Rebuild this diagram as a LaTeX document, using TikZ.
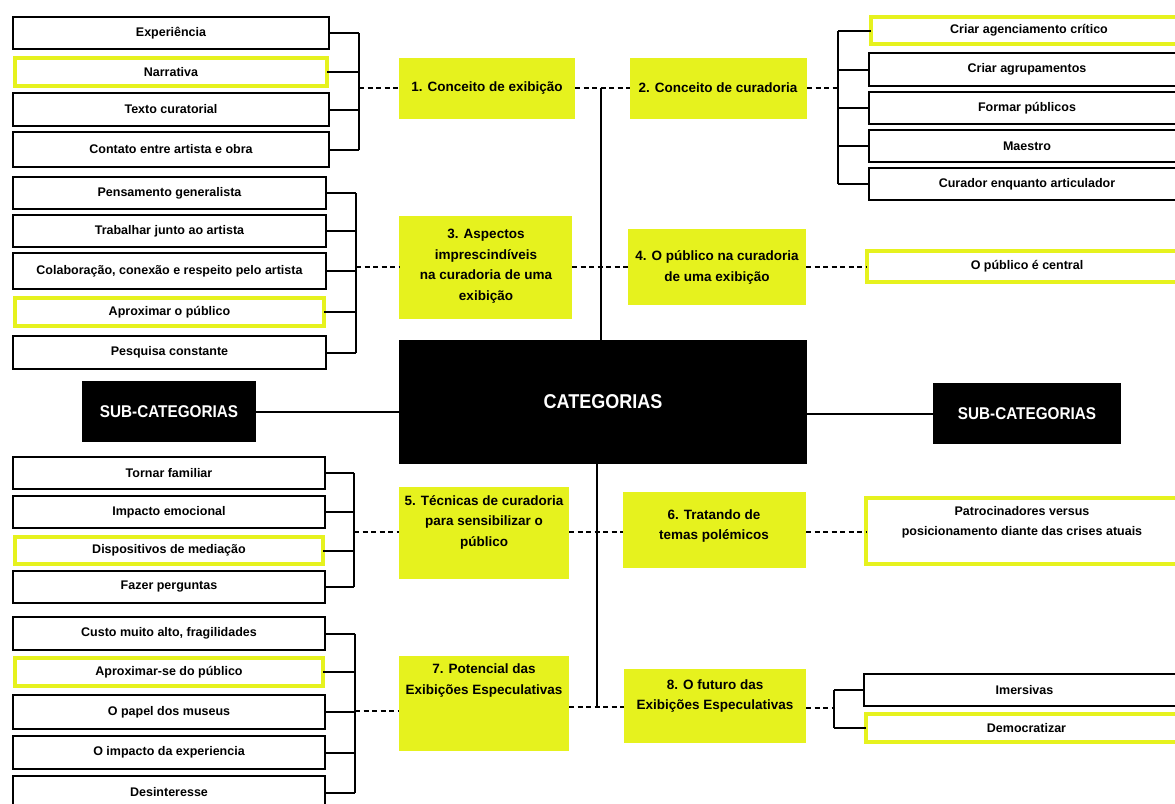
\documentclass[tikz,border=0pt]{standalone}
\usepackage{fontspec}
\setmainfont{Liberation Sans}
\newfontfamily\condf[FakeStretch=0.9]{Liberation Sans}
\definecolor{yl}{HTML}{E6F21E}
\newcommand\bx[6]{\node[#1, minimum width={#5-#3}, minimum height={#6-#4}] (#2) at ({(#3+#5)/2},{(#4+#6)/2})}
\begin{document}
\begin{tikzpicture}[x=1pt,y=-1pt,
 item/.style={draw=black, line width=2pt, fill=white, inner sep=0pt, outer sep=0pt, font=\fontsize{12.5}{14}\selectfont\bfseries, align=center},
 hitem/.style={item, draw=yl, line width=4.5pt},
 catbox/.style={fill=yl, inner sep=0pt, outer sep=0pt},
 cattext/.style={font=\fontsize{13.5}{20.5}\selectfont\bfseries, align=center, inner sep=0pt},
 itext/.style={font=\fontsize{12.5}{20}\selectfont\bfseries, align=center, inner sep=0pt},
 darkbox/.style={fill=black, text=white, inner sep=0pt, outer sep=0pt, font=\condf\bfseries},
 conn/.style={line width=2pt, black},
 dconn/.style={conn, dash pattern=on 5pt off 3.5pt},
]
\useasboundingbox (0,0) rectangle (1175,803);
\fill[white] (0,0) rectangle (1175,803);

% ---------- top-left group
\bx{item}{a1}{13}{17}{329}{49}{Experiência};
\bx{hitem}{a2}{15}{58}{327}{86}{Narrativa};
\bx{item}{a3}{13}{93}{329}{126}{Texto curatorial};
\bx{item}{a4}{13}{132}{329}{167}{Contato entre artista e obra};
\coordinate (ba) at (359,88);

% category boxes 1,2
\bx{catbox}{c1}{399}{58}{575}{119}{};
\node[cattext] at (487,88) {1. Conceito de exibição};
\bx{catbox}{c2}{630}{58}{807}{119}{};
\node[cattext] at (718,88) {2. Conceito de curadoria};
\coordinate (bb) at (838,88);

% ---------- top-right group
\bx{hitem}{b1}{871}{17}{1187}{44}{Criar agenciamento crítico};
\bx{item}{b2}{869}{53}{1185}{86}{Criar agrupamentos};
\bx{item}{b3}{869}{92}{1185}{124}{Formar públicos};
\bx{item}{b4}{869}{130}{1185}{162}{Maestro};
\bx{item}{b5}{869}{168}{1185}{200}{Curador enquanto articulador};

% ---------- left group 2
\bx{item}{d1}{13}{177}{326}{209}{Pensamento generalista};
\bx{item}{d2}{13}{215}{326}{247}{Trabalhar junto ao artista};
\bx{item}{d3}{13}{253}{326}{289}{Colaboração, conexão e respeito pelo artista};
\bx{hitem}{d4}{15}{298}{324}{326}{Aproximar o público};
\bx{item}{d5}{13}{336}{326}{369}{Pesquisa constante};
\coordinate (bc) at (356,267);

\bx{catbox}{c3}{399}{216}{572}{319}{};
\node[cattext] at (486,266) {3. Aspectos\\imprescindíveis\\na curadoria de uma\\exibição};
\bx{catbox}{c4}{628}{229}{806}{305}{};
\node[cattext] at (717,267.5) {4. O público na curadoria\\de uma exibição};
\bx{hitem}{e1}{867}{251}{1187}{282}{O público é central};

% ---------- centre
\bx{darkbox}{cat}{399}{340}{807}{464}{\fontsize{20}{24}\selectfont CATEGORIAS};
\bx{darkbox}{subL}{82}{381}{256}{442}{\fontsize{17}{20}\selectfont SUB-CATEGORIAS};
\bx{darkbox}{subR}{933}{383}{1121}{444}{\fontsize{17}{20}\selectfont SUB-CATEGORIAS};
\coordinate (t1) at (601,88);
\coordinate (t2) at (597,707);

% ---------- left group 3
\bx{item}{f1}{13}{457}{325}{489}{Tornar familiar};
\bx{item}{f2}{13}{496}{325}{528}{Impacto emocional};
\bx{hitem}{f3}{15}{537}{323}{564}{Dispositivos de mediação};
\bx{item}{f4}{13}{571}{325}{603}{Fazer perguntas};
\coordinate (bf) at (354,532);

\bx{catbox}{c5}{399}{487}{569}{579}{};
\node[cattext] at (484,522) {5. Técnicas de curadoria\\para sensibilizar o\\público};
\bx{catbox}{c6}{623}{492}{806}{568}{};
\node[cattext] at (714,526) {6. Tratando de\\temas polémicos};
\bx{hitem}{g1}{866}{498}{1187}{564}{};
\node[itext] at (1022,522) {Patrocinadores versus\\posicionamento diante das crises atuais};

% ---------- left group 4
\bx{item}{h1}{13}{617}{325}{650}{Custo muito alto, fragilidades};
\bx{hitem}{h2}{15}{658}{323}{686}{Aproximar-se do público};
\bx{item}{h3}{13}{695}{325}{729}{O papel dos museus};
\bx{item}{h4}{13}{736}{325}{769}{O impacto da experiencia};
\bx{item}{h5}{13}{776}{325}{809}{Desinteresse};
\coordinate (bh) at (355,711);

\bx{catbox}{c7}{399}{656}{569}{751}{};
\node[cattext] at (484,680.5) {7. Potencial das\\Exibições Especulativas};
\bx{catbox}{c8}{624}{669}{806}{743}{};
\node[cattext] at (715,696) {8. O futuro das\\Exibições Especulativas};
\coordinate (bk) at (834,708);
\bx{item}{k1}{864}{674}{1185}{706}{Imersivas};
\bx{hitem}{k2}{866}{714}{1187}{742}{Democratizar};

% ---------- connectors
\foreach \n in {a1,a2,a3,a4} \draw[conn] (\n.east) -- (\n.east -| ba);
\draw[conn] (a1.east -| ba) -- (a4.east -| ba);
\draw[dconn] (ba) -- (ba -| c1.west);
\draw[dconn] (c1.east |- t1) -- (c2.west |- t1);
\draw[dconn] (c2.east |- bb) -- (bb);
\foreach \n in {b1,b2,b3,b4,b5} \draw[conn] (bb |- \n.west) -- (\n.west);
\draw[conn] (bb |- b1.west) -- (bb |- b5.west);
\draw[conn] (t1) -- (t1 |- cat.north);

\foreach \n in {d1,d2,d3,d4,d5} \draw[conn] (\n.east) -- (\n.east -| bc);
\draw[conn] (d1.east -| bc) -- (d5.east -| bc);
\draw[dconn] (bc) -- (bc -| c3.west);
\draw[dconn] (c3.east |- bc) -- (c4.west |- bc);
\draw[dconn] (c4.east |- bc) -- (e1.west |- bc);

\draw[conn] (subL.east) -- (subL.east -| cat.west);
\draw[conn] (cat.east |- subR.west) -- (subR.west);
\draw[conn] (t2 |- cat.south) -- (t2);

\foreach \n in {f1,f2,f3,f4} \draw[conn] (\n.east) -- (\n.east -| bf);
\draw[conn] (f1.east -| bf) -- (f4.east -| bf);
\draw[dconn] (bf) -- (bf -| c5.west);
\draw[dconn] (c5.east |- bf) -- (c6.west |- bf);
\draw[dconn] (c6.east |- bf) -- (g1.west |- bf);

\foreach \n in {h1,h2,h3,h4,h5} \draw[conn] (\n.east) -- (\n.east -| bh);
\draw[conn] (h1.east -| bh) -- (h5.east -| bh);
\draw[dconn] (bh) -- (bh -| c7.west);
\draw[dconn] (c7.east |- t2) -- (c8.west |- t2);
\draw[dconn] (c8.east |- bk) -- (bk);
\foreach \n in {k1,k2} \draw[conn] (bk |- \n.west) -- (\n.west);
\draw[conn] (bk |- k1.west) -- (bk |- k2.west);
\end{tikzpicture}
\end{document}
